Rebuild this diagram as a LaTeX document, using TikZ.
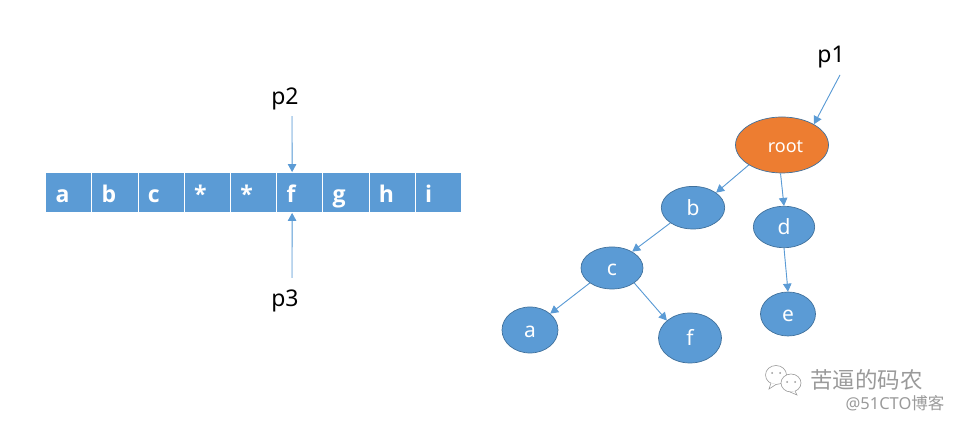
\documentclass[tikz,border=0pt]{standalone}
\usepackage{fontspec}
\setmainfont{Noto Sans}
\newfontfamily\cellfont{Open Sans}
\newfontfamily\cjk{Noto Sans CJK SC}
\usetikzlibrary{arrows.meta}
\usetikzlibrary{shapes.geometric}
\definecolor{cellblue}{HTML}{5B9BD5}
\definecolor{edgeblue}{HTML}{41719C}
\definecolor{rootorange}{HTML}{ED7D31}
\definecolor{markgray}{HTML}{9A9A9A}
\tikzset{
  cell/.style={shape=rectangle, minimum width=46.2pt, text width=26.2pt, text height=29.7pt, text depth=10.3pt, inner xsep=10pt, inner ysep=0pt, align=left, draw=white, line width=0.8pt, fill=cellblue, text=white, font=\cellfont\bfseries\fontsize{23pt}{23pt}\selectfont},
  pointer/.style={font=\fontsize{23pt}{23pt}\selectfont, inner sep=0pt, outer sep=6.5pt, text=black},
  treenode/.style={shape=ellipse, inner sep=0pt, text height=16pt, text depth=0pt, draw=edgeblue, line width=0.7pt, fill=cellblue, text=white, font=\fontsize{21pt}{21pt}\selectfont},
  link/.style={->, >={Triangle[length=8pt,width=8.5pt]}, line width=0.9pt, draw=cellblue, fill=cellblue},
  markicon/.style={draw=markgray, line width=0.6pt, fill=white}
}
\begin{document}
\begin{tikzpicture}
\useasboundingbox (0pt,0pt) rectangle (954pt,422pt);
% array
\foreach \x [count=\i] in {a,b,c,*,*,f,g,h,i}
  {\node[cell] (cell\i) at (45.5pt + \i * 46.2pt - 23.1pt, 229.5pt) {\x} ;}
\node[pointer] (p2) at (285pt,323.5pt) {p2} ;
\node[pointer] (p3) at (285pt,121pt) {p3} ;
\draw[link] ([xshift=7pt]p2.south) -- ([xshift=-7.5pt]cell6.north) ;
\draw[link] ([xshift=7pt,yshift=5.5pt]p3.north) -- ([xshift=-7.5pt]cell6.south) ;
% tree
\node[treenode, minimum width=93pt, minimum height=56pt, fill=rootorange, font=\fontsize{18pt}{18pt}\selectfont] (root) at (782pt,277pt) {\hspace*{7pt}root} ;
\node[treenode, minimum width=63.4pt, minimum height=42.6pt] (b) at (693pt,214.3pt) {b} ;
\node[treenode, minimum width=61.4pt, minimum height=41.4pt] (d) at (784pt,195pt) {d} ;
\node[treenode, minimum width=62pt, minimum height=42pt] (c) at (612pt,154pt) {c} ;
\node[treenode, minimum width=55pt, minimum height=44pt] (e) at (788pt,108pt) {e} ;
\node[treenode, minimum width=56pt, minimum height=46pt] (a) at (530pt,92pt) {a} ;
\node[treenode, minimum width=63pt, minimum height=50pt] (f) at (690pt,84pt) {f} ;
\node[pointer] (p1) at (831pt,364.5pt) {p1} ;
\draw[link] ([xshift=9pt]p1.south) -- (root.33) ;
\draw[link] (root.211) -- (b.33) ;
\draw[link] (root.267) -- (d.90) ;
\draw[link] (b.214) -- (c.39) ;
\draw[link] (d.270) -- (e.90) ;
\draw[link] (c.214) -- (a.39) ;
\draw[link] (c.326) -- (f.143) ;
% watermark
\draw[markicon] (776pt,47pt) ellipse (10.5pt and 9.5pt) ;
\draw[markicon] (771pt,39pt) -- (769pt,33pt) -- (776pt,37.5pt) ;
\draw[markicon] (791pt,39pt) ellipse (10pt and 9pt) ;
\draw[markicon] (795pt,31pt) -- (797pt,27pt) -- (790pt,30pt) ;
\fill[markgray] (772pt,49pt) circle (1pt) (780pt,49pt) circle (1pt) (787pt,40pt) circle (1pt) (795pt,40pt) circle (1pt) ;
\node[inner sep=0pt, text=markgray, font=\cjk\fontsize{22.5pt}{22.5pt}\selectfont] (marktitle) at (866.5pt,42pt) {苦逼的码农} ;
\node[inner sep=0pt, text=markgray, font=\fontsize{16.5pt}{16.5pt}\selectfont] (marksite) at (895pt,19pt) {@51CTO{\cjk 博客}} ;
\end{tikzpicture}
\end{document}
